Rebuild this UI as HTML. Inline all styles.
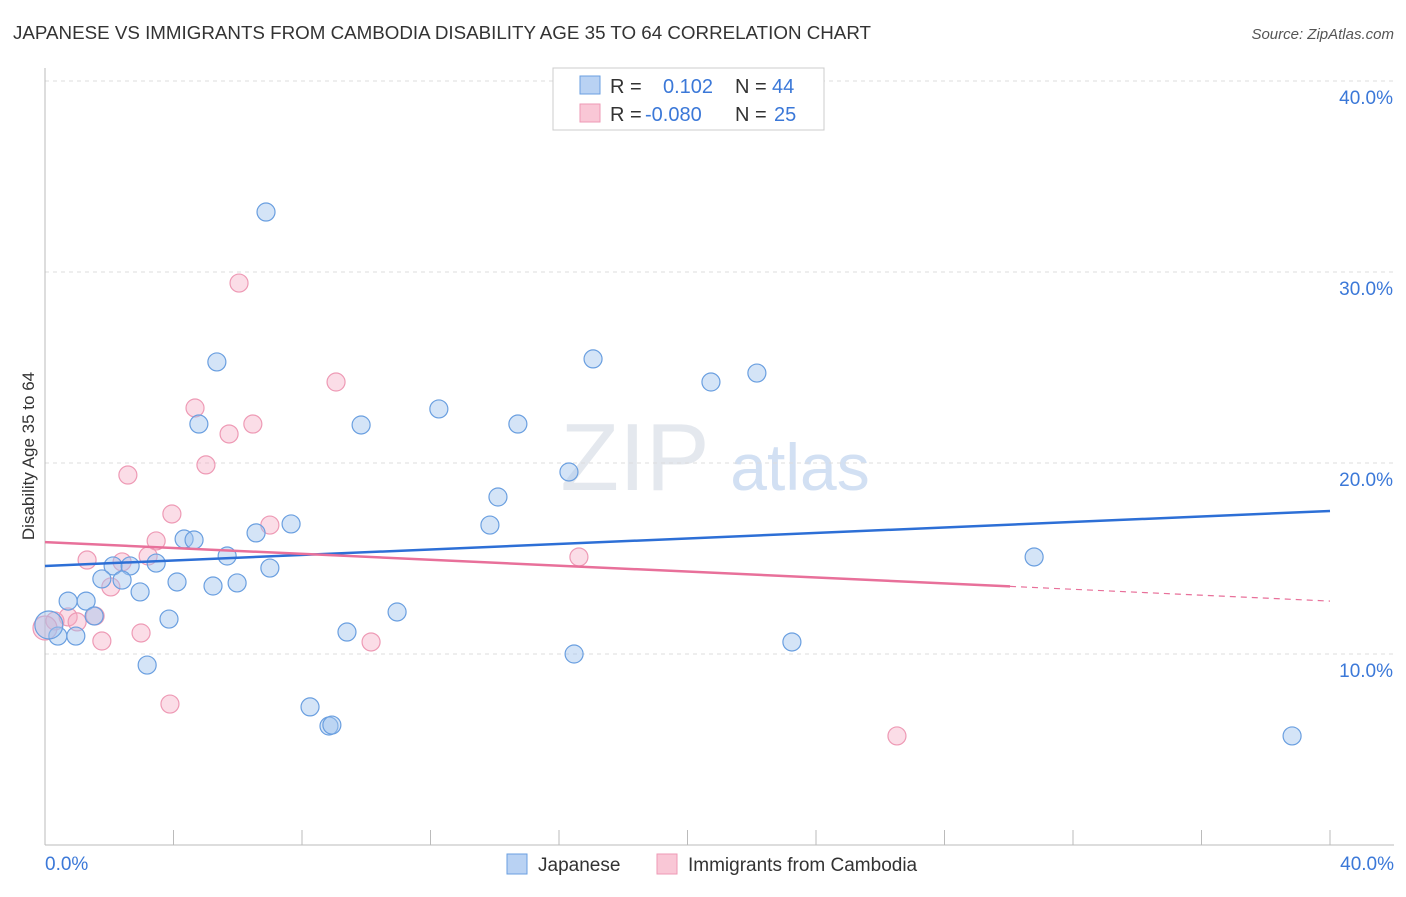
<!DOCTYPE html>
<html><head><meta charset="utf-8"><style>
body{margin:0;background:#fff;font-family:"Liberation Sans",sans-serif;}
svg text{font-family:"Liberation Sans",sans-serif;}
</style></head><body>
<svg width="1406" height="892">
<text x="13" y="39" font-size="18" fill="#333" textLength="858" lengthAdjust="spacingAndGlyphs">JAPANESE VS IMMIGRANTS FROM CAMBODIA DISABILITY AGE 35 TO 64 CORRELATION CHART</text>
<text x="1394" y="39" font-size="15" fill="#555" text-anchor="end" font-style="italic">Source: ZipAtlas.com</text>
<text x="635" y="490" font-size="96" fill="#e4e8ee" font-family="Liberation Serif" text-anchor="middle">ZIP</text>
<text x="800" y="490" font-size="66" fill="#d2e0f3" text-anchor="middle">atlas</text>
<g id="grid"></g>
<line x1="45" y1="68" x2="45" y2="845" stroke="#bbb"/>
<line x1="45" y1="845" x2="1394" y2="845" stroke="#bbb"/>
<text x="34" y="456" font-size="17" fill="#333" text-anchor="middle" transform="rotate(-90 34 456)">Disability Age 35 to 64</text>
<text x="45" y="870" font-size="19" fill="#3b78d8">0.0%</text>
<text x="1394" y="870" font-size="19" fill="#3b78d8" text-anchor="end">40.0%</text>
<g id="pts"></g>
<g id="lines"></g>
<g>
<rect x="553" y="68" width="271" height="62" fill="#fff" stroke="#ccc"/>
<rect x="580" y="76" width="20" height="18" fill="#b9d2f3" stroke="#6a9fe0"/>
<rect x="580" y="104" width="20" height="18" fill="#f9c7d6" stroke="#ee9ab5"/>
<text x="610" y="93" font-size="20" fill="#333">R = <tspan x="663" fill="#3b78d8">0.102</tspan><tspan x="735" fill="#333">N = </tspan><tspan x="772" fill="#3b78d8">44</tspan></text>
<text x="610" y="121" font-size="20" fill="#333">R = <tspan x="645" fill="#3b78d8">-0.080</tspan><tspan x="735" fill="#333">N = </tspan><tspan x="774" fill="#3b78d8">25</tspan></text>
</g>
<g>
<rect x="507" y="854" width="20" height="20" fill="#b9d2f3" stroke="#6a9fe0"/>
<text x="538" y="871" font-size="19" fill="#333">Japanese</text>
<rect x="657" y="854" width="20" height="20" fill="#f9c7d6" stroke="#ee9ab5"/>
<text x="688" y="871" font-size="19" fill="#333">Immigrants from Cambodia</text>
</g>
</svg>
<script>
const yTicks=[10,20,30,40];
const xTicks=[4,8,12,16,20,24,28,32,36,40];
const jpX=[6.88,5.35,17.06,20.73,22.16,4.79,9.84,12.26,14.72,16.31,14.10,13.85,7.66,6.57,4.33,4.64,5.67,3.46,2.12,2.65,2.40,1.77,2.96,4.11,5.23,5.98,7.00,0.72,1.28,1.53,3.86,10.96,9.40,0.96,0.40,0.12,3.18,16.47,23.25,8.25,8.84,8.93,30.79,38.82];
const jpY=[33.14,25.29,25.45,24.24,24.71,22.04,21.99,22.83,22.04,19.53,18.22,16.75,16.81,16.34,16.02,15.97,15.13,14.76,14.61,14.61,13.87,13.93,13.25,13.77,13.56,13.72,14.50,12.77,12.77,11.99,11.83,12.20,11.15,10.94,10.94,11.52,9.42,10.00,10.63,7.23,6.23,6.28,15.08,5.71];
const kbX=[6.04,9.06,4.67,5.73,6.47,5.01,2.58,3.95,7.00,3.46,3.21,1.31,2.40,2.05,16.62,1.56,0.72,1.00,0.31,1.77,2.99,10.15,3.89,26.52,0.0];
const kbY=[29.42,24.24,22.88,21.52,22.04,19.90,19.37,17.33,16.75,15.92,15.13,14.92,14.82,13.51,15.08,11.99,11.94,11.68,11.73,10.68,11.10,10.63,7.38,5.71,11.36];
const jpTrend=[14.61,17.49];
const kbTrend=[15.86,12.77];
const kbSolidEnd=30.04;
const sx=v=>45+v*32.125, sy=v=>845-v*19.1;
const NS='http://www.w3.org/2000/svg';
function mk(t,a){const e=document.createElementNS(NS,t);for(const k in a)e.setAttribute(k,a[k]);return e;}
const grid=document.getElementById('grid');
yTicks.forEach(t=>{
 const l=mk('line',{x1:45,x2:1394,y1:sy(t),y2:sy(t),stroke:'#ddd','stroke-dasharray':'4,4'});
 
 
 grid.appendChild(l);
 const tx=mk('text',{x:1393,y:sy(t)+23,'font-size':19,fill:'#3b78d8','text-anchor':'end'});
 tx.textContent=t.toFixed(1)+'%';
 
 
 grid.appendChild(tx);
});
xTicks.forEach(t=>{
 const l=mk('line',{x1:sx(t),x2:sx(t),y1:830,y2:845,stroke:'#bbb'});
 
 
 grid.appendChild(l);
});
const pts=document.getElementById('pts');
kbX.forEach((x,i)=>{
 const c=mk('circle',{cx:sx(x),cy:sy(kbY[i]),r:i==24?12:9,fill:'rgba(244,170,195,0.4)',stroke:'#ee9ab5','stroke-width':1.2});
 
 
 pts.appendChild(c);
});
jpX.forEach((x,i)=>{
 const c=mk('circle',{cx:sx(x),cy:sy(jpY[i]),r:i==35?14:9,fill:'rgba(160,195,238,0.45)',stroke:'#6a9fe0','stroke-width':1.2});
 
 
 pts.appendChild(c);
});
const lines=document.getElementById('lines');
const jl=mk('line',{x1:sx(0),y1:sy(jpTrend[0]),x2:sx(40),y2:sy(jpTrend[1]),stroke:'#2d6fd6','stroke-width':2.5});


lines.appendChild(jl);
const kyEnd=kbTrend[0]+(kbTrend[1]-kbTrend[0])*kbSolidEnd/40;
const kl=mk('line',{x1:sx(0),y1:sy(kbTrend[0]),x2:sx(kbSolidEnd),y2:sy(kyEnd),stroke:'#e8709a','stroke-width':2.5});


lines.appendChild(kl);
const kd=mk('line',{x1:sx(kbSolidEnd),y1:sy(kyEnd),x2:sx(40),y2:sy(kbTrend[1]),stroke:'#e8709a','stroke-width':1.2,'stroke-dasharray':'6,5'});


lines.appendChild(kd);
</script>
</body></html>
